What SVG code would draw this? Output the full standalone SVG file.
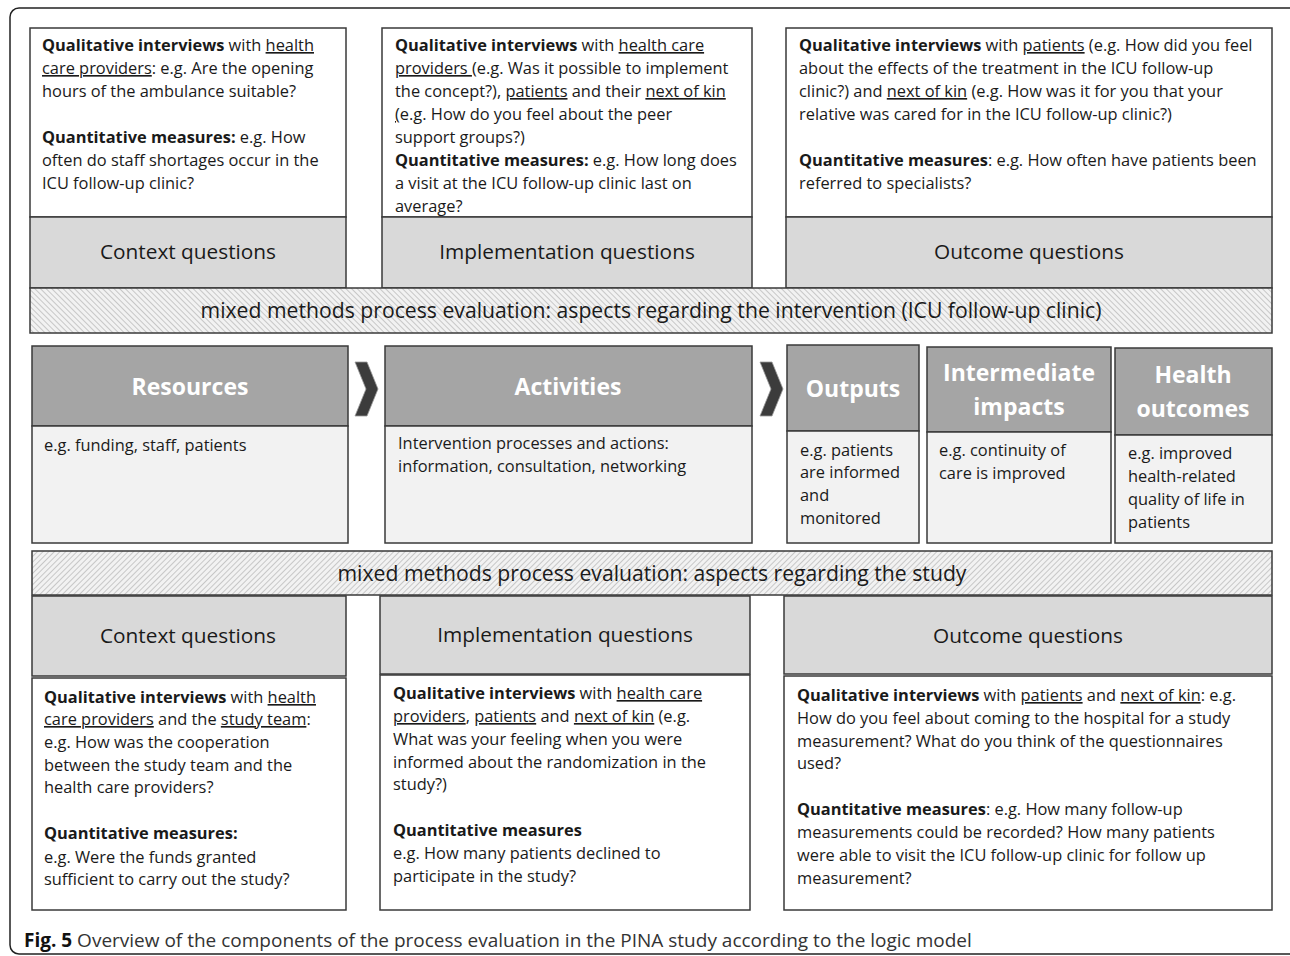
<svg xmlns="http://www.w3.org/2000/svg" width="1290" height="956" viewBox="0 0 1290 956">
<style>
.t{font-family:"Open Sans","Noto Sans",sans-serif;font-size:16.4px;fill:#1a1a1a}
.b{font-weight:bold}
.u{text-decoration:underline}
.q{font-family:"Open Sans","Noto Sans",sans-serif;font-size:20.8px;fill:#1a1a1a;text-anchor:middle}
.bd{font-family:"Open Sans","Noto Sans",sans-serif;font-size:21.2px;fill:#1a1a1a;text-anchor:middle}
.h{font-family:"Open Sans","Noto Sans",sans-serif;font-size:23px;font-weight:bold;fill:#ffffff;text-anchor:middle}
.box{fill:#ffffff;stroke:#3a3a3a;stroke-width:1.5}
.gq{fill:#d9d9d9;stroke:#3a3a3a;stroke-width:1.5}
.lh{fill:#a5a5a5;stroke:#3a3a3a;stroke-width:1.5}
.lb{fill:#f2f2f2;stroke:#3a3a3a;stroke-width:1.5}
.chev{fill:#3c3c3c;stroke:#999;stroke-width:0.8}
.cap{font-family:"Open Sans","Noto Sans",sans-serif;font-size:19px;fill:#333}
</style>
<defs>
<pattern id="hatchA" patternUnits="userSpaceOnUse" width="4" height="4" patternTransform="rotate(-45)">
<rect width="4" height="4" fill="#f2f2f2"/>
<line x1="0" y1="0" x2="0" y2="4" stroke="#9c9c9c" stroke-width="1"/>
</pattern>
<pattern id="hatchB" patternUnits="userSpaceOnUse" width="4" height="4" patternTransform="rotate(45)">
<rect width="4" height="4" fill="#f2f2f2"/>
<line x1="0" y1="0" x2="0" y2="4" stroke="#9c9c9c" stroke-width="1"/>
</pattern>
</defs>
<rect width="1290" height="956" fill="#ffffff"/>
<rect id="frame" x="10" y="8" width="1290" height="946" rx="9" fill="none" stroke="#222" stroke-width="1.5"/>

<!-- Top row -->
<g id="top-context">
<rect class="box" x="30" y="28" width="316" height="189"/>
<rect class="gq" x="30" y="217" width="316" height="71"/>
<text class="t" x="42" y="51"><tspan class="b">Qualitative interviews</tspan> with <tspan class="u">health</tspan></text>
<text class="t" x="42" y="74"><tspan class="u">care providers</tspan>: e.g. Are the opening</text>
<text class="t" x="42" y="97">hours of the ambulance suitable?</text>
<text class="t" x="42" y="143"><tspan class="b">Quantitative measures:</tspan> e.g. How</text>
<text class="t" x="42" y="166">often do staff shortages occur in the</text>
<text class="t" x="42" y="189">ICU follow-up clinic?</text>
<text class="q" x="188" y="259">Context questions</text>
</g>

<g id="top-implementation">
<rect class="box" x="382" y="28" width="370" height="189"/>
<rect class="gq" x="382" y="217" width="370" height="71"/>
<text class="t" x="395" y="51"><tspan class="b">Qualitative interviews</tspan> with <tspan class="u">health care</tspan></text>
<text class="t" x="395" y="74"><tspan class="u">providers </tspan>(e.g. Was it possible to implement</text>
<text class="t" x="395" y="97">the concept?), <tspan class="u">patients</tspan> and  their <tspan class="u">next of kin</tspan></text>
<text class="t" x="395" y="120"><tspan class="u">(</tspan>e.g. How do you feel about the peer</text>
<text class="t" x="395" y="143">support groups?)</text>
<text class="t" x="395" y="166"><tspan class="b">Quantitative measures:</tspan> e.g. How long does</text>
<text class="t" x="395" y="189">a visit at the ICU follow-up clinic last on</text>
<text class="t" x="395" y="212">average?</text>
<text class="q" x="567" y="259">Implementation questions</text>
</g>

<g id="top-outcome">
<rect class="box" x="786" y="28" width="486" height="189"/>
<rect class="gq" x="786" y="217" width="486" height="71"/>
<text class="t" x="799" y="51"><tspan class="b">Qualitative interviews</tspan> with <tspan class="u">patients</tspan> (e.g. How did you feel</text>
<text class="t" x="799" y="74">about the effects of the treatment in the ICU follow-up</text>
<text class="t" x="799" y="97">clinic?) and <tspan class="u">next of kin</tspan> (e.g. How was it for you that your</text>
<text class="t" x="799" y="120">relative was cared for in the ICU follow-up clinic?)</text>
<text class="t" x="799" y="166"><tspan class="b">Quantitative measures</tspan>: e.g. How often have patients been</text>
<text class="t" x="799" y="189">referred to specialists?</text>
<text class="q" x="1029" y="259">Outcome questions</text>
</g>

<g id="band-intervention">
<rect x="30" y="288" width="1242" height="45" fill="url(#hatchA)" stroke="#3a3a3a" stroke-width="1.5"/>
<text class="bd" x="651" y="318">mixed methods process evaluation: aspects regarding the intervention (ICU follow-up clinic)</text>
</g>

<!-- Logic model row -->
<g id="resources">
<rect class="lh" x="32" y="346" width="316" height="80" stroke="#777"/>
<rect class="lb" x="32" y="426" width="316" height="117" stroke="#777"/>
<text class="h" x="190" y="395">Resources</text>
<text class="t" x="44" y="451">e.g. funding, staff, patients</text>
</g>
<g id="activities">
<rect class="lh" x="385" y="346" width="367" height="80"/>
<rect class="lb" x="385" y="426" width="367" height="117"/>
<text class="h" x="568" y="395">Activities</text>
<text class="t" x="398" y="449">Intervention processes and actions:</text>
<text class="t" x="398" y="472">information, consultation, networking</text>
</g>
<g id="outputs">
<rect class="lh" x="787" y="345" width="132" height="86"/>
<rect class="lb" x="787" y="431" width="132" height="112"/>
<text class="h" x="853" y="397">Outputs</text>
<text class="t" x="800" y="456">e.g. patients</text>
<text class="t" x="800" y="478">are informed</text>
<text class="t" x="800" y="501">and</text>
<text class="t" x="800" y="524">monitored</text>
</g>
<g id="intermediate-impacts">
<rect class="lh" x="927" y="347" width="184" height="85"/>
<rect class="lb" x="927" y="432" width="184" height="111"/>
<text class="h" x="1019" y="381">Intermediate</text>
<text class="h" x="1019" y="415">impacts</text>
<text class="t" x="939" y="456">e.g. continuity of</text>
<text class="t" x="939" y="479">care is improved</text>
</g>
<g id="health-outcomes">
<rect class="lh" x="1115" y="348" width="157" height="87"/>
<rect class="lb" x="1115" y="435" width="157" height="108"/>
<text class="h" x="1193" y="383">Health</text>
<text class="h" x="1193" y="417">outcomes</text>
<text class="t" x="1128" y="459">e.g. improved</text>
<text class="t" x="1128" y="482">health-related</text>
<text class="t" x="1128" y="505">quality of life in</text>
<text class="t" x="1128" y="528">patients</text>
</g>
<g id="connectors">
<polygon class="chev" points="355,362 367,362 378,389 367,416 355,416 366,389"/>
<polygon class="chev" points="760,362 772,362 783,389 772,416 760,416 771,389"/>
</g>

<g id="band-study">
<rect x="32" y="551" width="1240" height="44" fill="url(#hatchB)" stroke="#3a3a3a" stroke-width="1.5"/>
<text class="bd" x="652" y="581">mixed methods process evaluation: aspects regarding the study</text>
</g>

<!-- Bottom row -->
<g id="bottom-context">
<rect class="gq" x="32" y="596" width="314" height="80"/>
<rect class="box" x="32" y="678" width="314" height="232"/>
<text class="q" x="188" y="643">Context questions</text>
<text class="t" x="44" y="703"><tspan class="b">Qualitative interviews</tspan> with <tspan class="u">health</tspan></text>
<text class="t" x="44" y="725"><tspan class="u">care providers</tspan> and the <tspan class="u">study team</tspan>:</text>
<text class="t" x="44" y="748">e.g. How was the cooperation</text>
<text class="t" x="44" y="771">between the study team and the</text>
<text class="t" x="44" y="793">health care providers?</text>
<text class="t" x="44" y="839"><tspan class="b">Quantitative measures:</tspan></text>
<text class="t" x="44" y="863">e.g. Were the funds granted</text>
<text class="t" x="44" y="885">sufficient to carry out the study?</text>
</g>
<g id="bottom-implementation">
<rect class="gq" x="380" y="596" width="370" height="78"/>
<rect class="box" x="380" y="675" width="370" height="235"/>
<text class="q" x="565" y="642">Implementation questions</text>
<text class="t" x="393" y="699"><tspan class="b">Qualitative interviews</tspan> with <tspan class="u">health care</tspan></text>
<text class="t" x="393" y="722"><tspan class="u">providers</tspan>, <tspan class="u">patients</tspan> and <tspan class="u">next of kin</tspan> (e.g.</text>
<text class="t" x="393" y="745">What was your feeling when you were</text>
<text class="t" x="393" y="768">informed about the randomization in the</text>
<text class="t" x="393" y="790">study?)</text>
<text class="t" x="393" y="836"><tspan class="b">Quantitative measures</tspan></text>
<text class="t" x="393" y="859">e.g. How many patients declined to</text>
<text class="t" x="393" y="882">participate in the study?</text>
</g>
<g id="bottom-outcome">
<rect class="gq" x="784" y="596" width="488" height="78"/>
<rect class="box" x="784" y="676" width="488" height="234"/>
<text class="q" x="1028" y="643">Outcome questions</text>
<text class="t" x="797" y="701"><tspan class="b">Qualitative interviews</tspan> with <tspan class="u">patients</tspan> and <tspan class="u">next of kin</tspan>: e.g.</text>
<text class="t" x="797" y="724">How do you feel about coming to the hospital for a study</text>
<text class="t" x="797" y="747">measurement? What do you think of the questionnaires</text>
<text class="t" x="797" y="769">used?</text>
<text class="t" x="797" y="815"><tspan class="b">Quantitative measures</tspan>: e.g. How many follow-up</text>
<text class="t" x="797" y="838">measurements could be recorded? How many patients</text>
<text class="t" x="797" y="861">were able to visit the ICU follow-up clinic for follow up</text>
<text class="t" x="797" y="884">measurement?</text>
</g>

<text class="cap" x="24" y="947"><tspan font-weight="bold" fill="#111">Fig. 5</tspan> Overview of the components of the process evaluation in the PINA study according to the logic model</text>
</svg>
